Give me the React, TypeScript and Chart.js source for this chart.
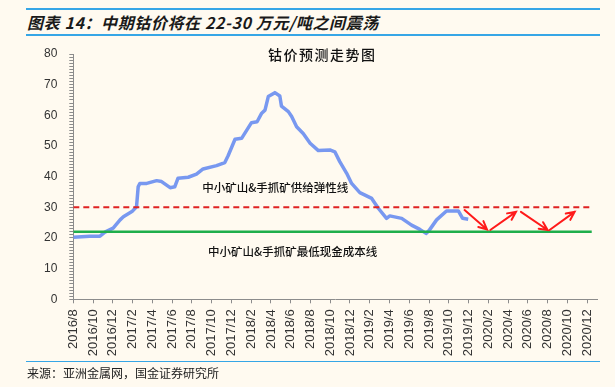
import React, { useEffect, useRef } from "react";
import { Chart, registerables } from "chart.js";
Chart.register(...registerables);

// ---- data ----
const priceDates = [
  "2016-08-01", "2016-09-21", "2016-10-22", "2016-11-07", "2016-12-02", "2016-12-23",
  "2017-01-03", "2017-01-29", "2017-02-13", "2017-02-18", "2017-02-23", "2017-03-14",
  "2017-04-14", "2017-04-29", "2017-05-25", "2017-06-09", "2017-06-19", "2017-07-20",
  "2017-08-15", "2017-09-05", "2017-10-16", "2017-11-11", "2017-11-21", "2017-12-12",
  "2018-01-02", "2018-02-02", "2018-02-19", "2018-03-03", "2018-03-13", "2018-03-23",
  "2018-04-13", "2018-04-28", "2018-05-03", "2018-05-24", "2018-06-04", "2018-06-19",
  "2018-07-09", "2018-07-30", "2018-08-25", "2018-09-30", "2018-10-15", "2018-10-30",
  "2018-11-21", "2018-12-06", "2019-01-01", "2019-02-07", "2019-02-27", "2019-03-22",
  "2019-04-02", "2019-05-08", "2019-06-08", "2019-07-03", "2019-07-22", "2019-08-01",
  "2019-08-24", "2019-09-24", "2019-10-30", "2019-11-13", "2019-11-30",
];
const priceValues = [
  20.2, 20.6, 20.6, 21.9, 23.2, 25.9,
  26.9, 28.6, 30.2, 36.7, 37.8, 37.8,
  38.7, 38.4, 36.4, 36.7, 39.5, 39.8,
  40.8, 42.5, 43.6, 44.6, 46.8, 52.2,
  52.5, 57.6, 57.9, 60.7, 61.7, 66.1,
  67.4, 66.3, 63.0, 61.2, 59.6, 56.3,
  54.1, 50.9, 48.5, 48.7, 48.1, 44.9,
  41.1, 37.8, 34.8, 32.9, 29.7, 26.4,
  27.2, 26.4, 24.2, 22.8, 21.5, 22.4,
  25.9, 28.8, 28.8, 26.4, 26.1,
];
const xTickLabels = [
  "2016/8", "2016/10", "2016/12", "2017/2", "2017/4", "2017/6", "2017/8", "2017/10", "2017/12",
  "2018/2", "2018/4", "2018/6", "2018/8", "2018/10", "2018/12", "2019/2", "2019/4", "2019/6",
  "2019/8", "2019/10", "2019/12", "2020/2", "2020/4", "2020/6", "2020/8", "2020/10", "2020/12",
];
const supplyLineValue = 30;
const costLineValue = 22;
const refLineDates = ["2016-08-01", "2020-12-15"];
const arrowFromDates = ["2019-11-19", "2020-02-07", "2020-05-10", "2020-08-07"];
const arrowFromValues = [29.1, 22.6, 28.5, 22.6];
const arrowToDates = ["2020-01-27", "2020-04-25", "2020-08-01", "2020-10-23"];
const arrowToValues = [22.8, 28.5, 22.6, 28.5];
const supplyLabel = "中小矿山&手抓矿供给弹性线";
const supplyLabelDate = "2018-04-14";
const supplyLabelValue = 36.3;
const costLabel = "中小矿山&手抓矿最低现金成本线";
const costLabelDate = "2018-06-07";
const costLabelValue = 15.4;
const chartTitle = "钴价预测走势图";
const headerText = "图表 14：中期钴价将在 22-30 万元/吨之间震荡";
const footerText = "来源：亚洲金属网，国金证券研究所";

const X_START_YEAR = 2016;
const X_START_MONTH = 8;
const toMonth = (d: string) => {
  const [y, m, day] = d.split("-").map(Number);
  return (y - X_START_YEAR) * 12 + (m - X_START_MONTH) + (day - 1) / 30;
};

const BG = "#fffaf0";
const CJK = '"Noto Sans CJK SC", "Noto Sans", sans-serif';

const overlayPlugin = {
  id: "overlay",
  afterDatasetsDraw(chart: any) {
    const { ctx, scales, chartArea } = chart;
    const xs = scales.x;
    const ys = scales.y;
    ctx.save();
    // arrows
    ctx.strokeStyle = "#ff1a1a";
    ctx.lineWidth = 2;
    ctx.lineCap = "round";
    for (let i = 0; i < arrowFromDates.length; i++) {
      const x1 = xs.getPixelForValue(toMonth(arrowFromDates[i]));
      const y1 = ys.getPixelForValue(arrowFromValues[i]);
      const x2 = xs.getPixelForValue(toMonth(arrowToDates[i]));
      const y2 = ys.getPixelForValue(arrowToValues[i]);
      ctx.beginPath();
      ctx.moveTo(x1, y1);
      ctx.lineTo(x2, y2);
      const a = Math.atan2(y2 - y1, x2 - x1);
      const L = 9;
      const s = 0.45;
      ctx.moveTo(x2 - L * Math.cos(a - s), y2 - L * Math.sin(a - s));
      ctx.lineTo(x2, y2);
      ctx.lineTo(x2 - L * Math.cos(a + s), y2 - L * Math.sin(a + s));
      ctx.stroke();
    }
    // labels
    ctx.fillStyle = "#111";
    ctx.textAlign = "center";
    ctx.textBaseline = "middle";
    ctx.font = `500 11.5px ${CJK}`;
    ctx.fillText(supplyLabel, xs.getPixelForValue(toMonth(supplyLabelDate)), ys.getPixelForValue(supplyLabelValue));
    ctx.fillText(costLabel, xs.getPixelForValue(toMonth(costLabelDate)), ys.getPixelForValue(costLabelValue));
    // title
    ctx.font = `500 14px ${CJK}`;
    (ctx as any).letterSpacing = "1.5px";
    ctx.fillText(chartTitle, chartArea.left + 249, chartArea.top + 1);
    ctx.restore();
  },
};

function ChartView() {
  const ref = useRef<HTMLCanvasElement | null>(null);
  useEffect(() => {
    if (!ref.current) return;
    const priceData = priceDates.map((d, i) => ({ x: toMonth(d), y: priceValues[i] }));
    const supplyData = refLineDates.map((d) => ({ x: toMonth(d), y: supplyLineValue }));
    const costData = refLineDates.map((d) => ({ x: toMonth(d), y: costLineValue }));
    const chart = new Chart(ref.current, {
      type: "line",
      data: {
        datasets: [
          {
            data: supplyData,
            borderColor: "#e02222",
            borderWidth: 2,
            borderDash: [6, 4],
            pointRadius: 0,
          },
          {
            data: costData,
            borderColor: "#1fae4b",
            borderWidth: 2.5,
            pointRadius: 0,
          },
          {
            data: priceData,
            borderColor: "#7898f0",
            borderWidth: 3.5,
            pointRadius: 0,
            tension: 0,
            borderJoinStyle: "round",
          },
        ],
      },
      options: {
        animation: false,
        responsive: false,
        maintainAspectRatio: false,
        layout: { padding: { left: 0, top: 54, right: 18, bottom: 0 } },
        plugins: { legend: { display: false }, tooltip: { enabled: false }, title: { display: false } },
        scales: {
          x: {
            type: "linear",
            min: 0,
            max: 53,
            afterFit(scale: any) {
              scale.height = 87.7;
            },
            afterBuildTicks(scale: any) {
              scale.ticks = xTickLabels.map((_, i) => ({ value: i * 2 }));
            },
            grid: { drawOnChartArea: false, drawTicks: true, tickLength: 4, color: "#8c8c8c" },
            border: { color: "#8c8c8c", width: 1 },
            ticks: {
              autoSkip: false,
              maxRotation: 90,
              minRotation: 90,
              padding: 6,
              color: "#333",
              font: { family: '"Liberation Sans", Arial, sans-serif', size: 13 },
              callback: (v: any) => xTickLabels[Math.round(Number(v) / 2)] ?? "",
            },
          },
          y: {
            min: 0,
            max: 80,
            afterFit(scale: any) {
              scale.width = 73.3;
            },
            grid: { drawOnChartArea: false, drawTicks: true, tickLength: 4, color: "#8c8c8c" },
            border: { color: "#8c8c8c", width: 1 },
            ticks: {
              stepSize: 1,
              maxTicksLimit: 100,
              autoSkip: false,
              padding: 12,
              color: "#333",
              font: { family: '"Liberation Sans", Arial, sans-serif', size: 12 },
              callback: (v: any) => (Number(v) % 10 === 0 ? String(v) : ""),
            },
          },
        },
      },
      plugins: [overlayPlugin],
    } as any);
    return () => chart.destroy();
  }, []);
  return <canvas ref={ref} width={615} height={387} style={{ position: "absolute", left: 0, top: 0, width: 615, height: 387 }} />;
}

export default function App() {
  const lineColor = "#36a6e6";
  return (
    <div style={{ position: "fixed", left: 0, top: 0, width: 615, height: 387, background: BG, overflow: "hidden" }}>
      <div style={{ position: "absolute", left: 26, top: 8, width: 574, height: 0, borderTop: `2px solid ${lineColor}` }} />
      <div
        style={{
          position: "absolute",
          left: 27,
          top: 10,
          height: 24,
          lineHeight: "24px",
          fontFamily: CJK,
          fontWeight: 700,
          fontStyle: "italic",
          fontSize: 16,
          letterSpacing: "0.6px",
          color: "#1a1a1a",
          whiteSpace: "nowrap",
        }}
      >
        {headerText}
      </div>
      <div style={{ position: "absolute", left: 26, top: 34, width: 574, height: 0, borderTop: `2px solid ${lineColor}` }} />
      <ChartView />
      <div style={{ position: "absolute", left: 26, top: 361, width: 574, height: 0, borderTop: `1.5px solid ${lineColor}` }} />
      <div
        style={{
          position: "absolute",
          left: 27,
          top: 364,
          height: 18,
          lineHeight: "18px",
          fontFamily: CJK,
          fontSize: 12,
          color: "#222",
          whiteSpace: "nowrap",
        }}
      >
        {footerText}
      </div>
    </div>
  );
}
